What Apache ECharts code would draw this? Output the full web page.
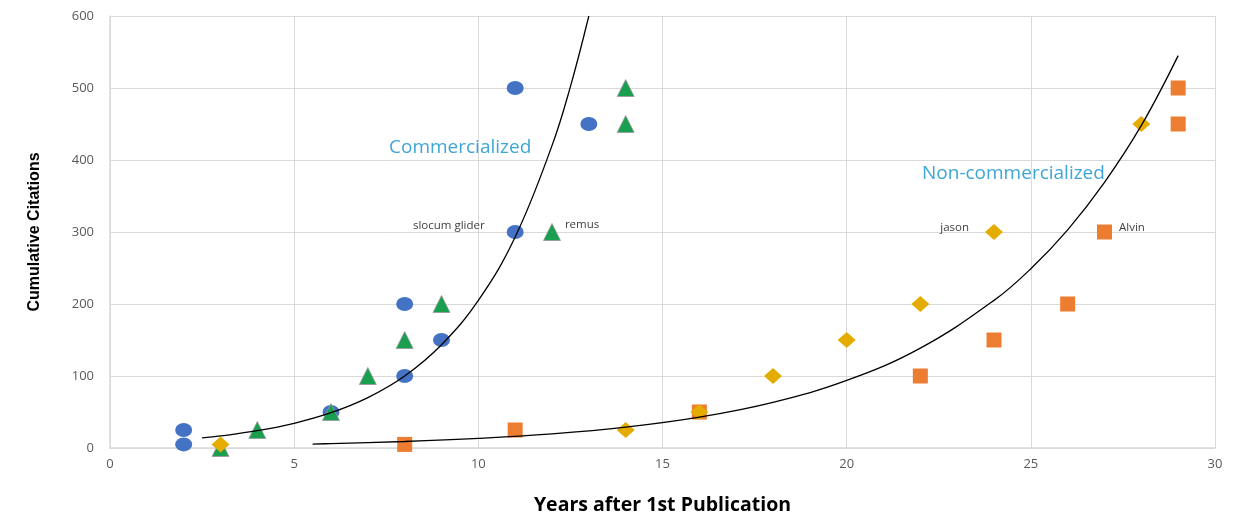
<!DOCTYPE html>
<html>
<head>
<meta charset="utf-8">
<script src="https://cdn.jsdelivr.net/npm/echarts@6/dist/echarts.min.js"></script>
<style>html,body{margin:0;padding:0;background:#fff}#c{width:1245px;height:515px}</style>
</head>
<body>
<div id="c"></div>
<script>
// Scatter data: [years, cumulative citations]
const slocumX = [2, 2, 6, 8, 8, 9, 11, 11, 13];
const slocumY = [5, 25, 50, 100, 200, 150, 300, 500, 450];
const remusX = [3, 4, 6, 7, 8, 9, 12, 14, 14];
const remusY = [0, 25, 50, 100, 150, 200, 300, 450, 500];
const jasonX = [3, 14, 16, 18, 20, 22, 24, 28];
const jasonY = [5, 25, 50, 100, 150, 200, 300, 450];
const alvinX = [8, 11, 16, 22, 24, 26, 27, 29, 29];
const alvinY = [5, 25, 50, 100, 150, 200, 300, 450, 500];
// Trendline points
const commTrendX = [2.5, 3, 4, 5, 6, 7, 8, 9, 10, 11, 12, 12.5, 13];
const commTrendY = [14, 16.7, 24, 34.3, 49, 70, 100, 143.5, 205, 293, 420, 502, 600];
const nonTrendX = [5.5, 6, 8, 10, 12, 14, 16, 18, 20, 22, 24, 25, 26, 27, 28, 29];
const nonTrendY = [5.5, 6.1, 9, 13.3, 19.6, 29, 42.9, 63.5, 93.8, 138.7, 205, 249, 303, 369, 448, 545];
const xTicks = [0, 5, 10, 15, 20, 25, 30];
const yTicks = [0, 100, 200, 300, 400, 500, 600];

const zip = (xs, ys) => xs.map((x, i) => [x, ys[i]]);
function withLabel(pts, idx, text, pos, dist, off) {
  return pts.map((p, i) => i === idx ? {
    value: p,
    label: { show: true, formatter: text, position: pos, distance: dist, offset: off,
      fontSize: 11.5, color: '#404040', fontFamily: 'Open Sans' }
  } : p);
}

const chart = echarts.init(document.getElementById('c'), null, { renderer: 'canvas' });
chart.setOption({
  animation: false,
  backgroundColor: '#fff',
  grid: { left: 110, right: 30, top: 16, bottom: 67, containLabel: false, outerBoundsMode: 'none' },
  xAxis: {
    type: 'value', min: xTicks[0], max: xTicks[xTicks.length - 1], interval: 5,
    name: 'Years after 1st Publication', nameLocation: 'middle', nameGap: 47,
    nameTextStyle: { fontFamily: 'Open Sans', fontWeight: 'bold', fontSize: 19.5, color: '#000' },
    axisLine: { show: true, lineStyle: { color: '#d9d9d9', width: 1.5 } },
    axisTick: { show: false },
    axisLabel: { color: '#595959', fontSize: 13, fontFamily: 'Open Sans', margin: 10 },
    splitLine: { show: true, lineStyle: { color: '#d9d9d9', width: 1 } }
  },
  yAxis: {
    type: 'value', min: yTicks[0], max: yTicks[yTicks.length - 1], interval: 100,
    name: 'Cumulative Citations', nameLocation: 'middle', nameGap: 67,
    nameTextStyle: { fontFamily: 'Liberation Sans', fontWeight: 'bold', fontSize: 16, color: '#000' },
    axisLine: { show: true, lineStyle: { color: '#d9d9d9', width: 1.5 } },
    axisTick: { show: false },
    axisLabel: { color: '#595959', fontSize: 13, fontFamily: 'Open Sans', margin: 16 },
    splitLine: { show: true, lineStyle: { color: '#d9d9d9', width: 1 } }
  },
  series: [
    { name: 'slocum glider', type: 'scatter', symbol: 'circle', symbolSize: [17, 14], z: 2,
      itemStyle: { color: '#4472C4', opacity: 1 },
      data: withLabel(zip(slocumX, slocumY), 6, 'slocum glider', 'left', 22, [0, -6]) },
    { name: 'Alvin', type: 'scatter', symbol: 'rect', symbolSize: 15, z: 2,
      itemStyle: { color: '#ED7D31', opacity: 1 },
      data: withLabel(zip(alvinX, alvinY), 6, 'Alvin', 'right', 7, [0, -4]) },
    { name: 'remus', type: 'scatter', symbol: 'triangle', symbolSize: 17, z: 3,
      itemStyle: { color: '#1a9e50', borderColor: '#9a9a9a', borderWidth: 0.8, opacity: 1 },
      data: withLabel(zip(remusX, remusY), 6, 'remus', 'right', 4, [0, -7]) },
    { name: 'jason', type: 'scatter', symbol: 'diamond', symbolSize: [18, 16], z: 4,
      itemStyle: { color: '#E5AC00', opacity: 1 },
      data: withLabel(zip(jasonX, jasonY), 6, 'jason', 'left', 16, [0, -4]) },
    { name: 'Commercialized trend', type: 'line', smooth: 0.4, symbol: 'none', z: 5,
      lineStyle: { color: '#000', width: 1.3 }, data: zip(commTrendX, commTrendY) },
    { name: 'Non-commercialized trend', type: 'line', smooth: 0.4, symbol: 'none', z: 5,
      lineStyle: { color: '#000', width: 1.3 }, data: zip(nonTrendX, nonTrendY) }
  ],
  graphic: [
    { type: 'text', left: 389, top: 138, z: 10,
      style: { text: 'Commercialized', fill: '#3ea6d6', fontSize: 19, fontFamily: 'Open Sans' } },
    { type: 'text', left: 922, top: 164, z: 10,
      style: { text: 'Non-commercialized', fill: '#3ea6d6', fontSize: 19, fontFamily: 'Open Sans' } }
  ]
});
</script>
</body>
</html>
